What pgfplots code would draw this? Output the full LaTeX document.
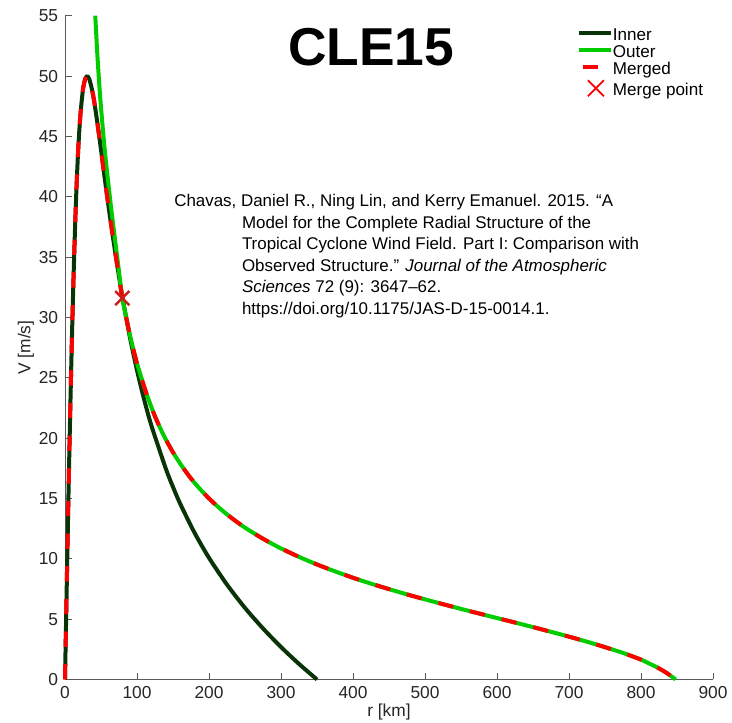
\documentclass[border=0pt]{standalone}
\usepackage{fontspec}
\setmainfont{Liberation Sans}
\usepackage{pgfplots}
\pgfplotsset{compat=1.18}

\definecolor{innergreen}{RGB}{8,52,8}
\definecolor{outergreen}{RGB}{0,204,0}
\definecolor{axisgray}{RGB}{90,90,90}
\definecolor{labelgray}{RGB}{38,38,38}
\definecolor{xred}{RGB}{205,30,30}

\begin{document}
\begin{tikzpicture}
\path[use as bounding box] (-48.75pt,-32.625pt) rectangle (500.25pt,509.625pt);
\begin{axis}[
  at={(0pt,0pt)}, anchor=south west,
  scale only axis, width=486pt, height=497.85pt,
  xmin=0, xmax=900, ymin=0, ymax=55,
  clip=false,
  axis x line*=bottom, axis y line*=left,
  axis line style={axisgray, line width=0.6pt},
  xtick={0,100,...,900}, ytick={0,5,...,55},
  tick align=inside, major tick length=5pt,
  tick style={axisgray, line width=0.6pt},
  /pgf/number format/assume math mode=true,
  tick label style={font=\fontsize{13}{15}\selectfont, text=labelgray, inner sep=0pt},
  xticklabel shift=5pt, yticklabel shift=5pt,
  xlabel={r [km]}, ylabel={V [m/s]},
  label style={font=\fontsize{13}{15}\selectfont, text=labelgray, inner sep=0pt},
  xlabel style={at={(axis description cs:0.5,0)}, anchor=north, yshift=-18pt},
  ylabel style={at={(axis description cs:0,0.5)}, rotate=0, anchor=south, yshift=23pt},
  legend style={draw=none, fill=none, at={(axis cs:711,54.0)}, anchor=north west,
    font=\fontsize{12.8}{13}\selectfont, inner sep=0pt, outer sep=0pt,
    row sep=0pt, column sep=0pt,
    nodes={inner sep=0pt, text height=9.2pt, text depth=3.7pt}},
  legend cell align=left,
  legend image code/.code={\draw[#1] (0pt,2.8pt) -- (24pt,2.8pt);},
  every axis plot/.append style={line join=round, smooth, tension=0.45},
]

% inner (ER11-type) profile
\addplot[innergreen, line width=3pt] coordinates {
(0,0) (1,3.2) (2,6.4) (3,9.6) (4,12.7) (5,15.8) (6,18.7) (8,24.2) (10,29.2)
(12,33.6) (14,37.5) (16,40.8) (18,43.5) (20,45.6) (22,47.2) (25,48.9) (28,49.75)
(31,50.0) (34,49.7) (37,49.0) (40,48.1) (45,46.1) (50,43.9) (55,41.6) (60,39.4)
(65,37.3) (70,35.3) (75,33.4) (80,31.6) (90,28.4) (100,25.62) (110,23.18)
(120,21.04) (140,17.47) (150,15.95) (160,14.56) (180,12.15) (200,10.08)
(225,7.86) (250,5.93) (275,4.23) (300,2.69) (325,1.29) (350,0)
};
\addlegendentry{Inner}

% outer (E04-type) profile
\addplot[outergreen, line width=3pt] coordinates {
(42.0,55.0) (43,53.9) (45,51.7) (47.5,49.4) (50,47.4) (55,44.0) (60,41.2) (65,38.6)
(70,36.2) (75,33.8) (79.6,31.6) (90,28.6) (100,26.2) (112.5,23.8) (125,21.8)
(137.5,20.18) (150,18.82) (162.5,17.67) (175,16.65) (187.5,15.78) (200,15.0)
(212.5,14.31) (225,13.68) (237.5,13.11) (250,12.58) (262.5,12.11) (275,11.66)
(287.5,11.25) (300,10.86) (325,10.16) (350,9.53) (375,8.96) (400,8.43) (425,7.94)
(450,7.49) (475,7.05) (500,6.64) (525,6.24) (550,5.85) (575,5.47) (600,5.09)
(625,4.72) (650,4.34) (675,3.95) (700,3.55) (725,3.13) (750,2.68) (775,2.20)
(800,1.65) (810,1.36) (820,1.08) (832,0.68) (840,0.36) (844,0.19) (848,0)
};
\addlegendentry{Outer}

% merged profile: inner inside the merge radius, outer beyond it
\addplot[red, line width=3pt, dash pattern=on 11.5pt off 13pt,
  legend image code/.code={\draw[red, line width=3pt] (3pt,2.8pt) -- (15.5pt,2.8pt);}] coordinates {
(0,0) (1,3.2) (2,6.4) (3,9.6) (4,12.7) (5,15.8) (6,18.7) (8,24.2) (10,29.2)
(12,33.6) (14,37.5) (16,40.8) (18,43.5) (20,45.6) (22,47.2) (25,48.9) (28,49.75)
(31,50.0) (34,49.7) (37,49.0) (40,48.1) (45,46.1) (50,43.9) (55,41.6) (60,39.4)
(65,37.3) (70,35.3) (75,33.4) (79.6,31.6) (90,28.6) (100,26.2) (112.5,23.8) (125,21.8)
(137.5,20.18) (150,18.82) (162.5,17.67) (175,16.65) (187.5,15.78) (200,15.0)
(212.5,14.31) (225,13.68) (237.5,13.11) (250,12.58) (262.5,12.11) (275,11.66)
(287.5,11.25) (300,10.86) (325,10.16) (350,9.53) (375,8.96) (400,8.43) (425,7.94)
(450,7.49) (475,7.05) (500,6.64) (525,6.24) (550,5.85) (575,5.47) (600,5.09)
(625,4.72) (650,4.34) (675,3.95) (700,3.55) (725,3.13) (750,2.68) (775,2.20)
(800,1.65) (810,1.36) (820,1.08) (832,0.68) (840,0.36) (844,0.19) (848,0)
};
\addlegendentry{Merged}

% merge point
\addplot[only marks, mark=x, mark size=7.5pt, xred, mark options={line width=1.9pt},
  legend image code/.code={\draw[red, line width=1.3pt] (6.75pt,-3.2pt) -- (18.75pt,8.8pt) (6.75pt,8.8pt) -- (18.75pt,-3.2pt);}]
  coordinates {(79.6,31.6)};
\addlegendentry{Merge point}

\node[font=\fontsize{40}{48}\selectfont\bfseries, anchor=base] at (axis cs:425,50.9) {CLE15};

\node[anchor=north west, align=left, inner sep=0pt, font=\fontsize{12.7}{16.1}\selectfont]
  at (axis cs:151.4,40.2) {Chavas, Daniel R., Ning Lin, and Kerry Emanuel. 2015. “A\\
  \hspace*{50.8pt}Model for the Complete Radial Structure of the\\
  \hspace*{50.8pt}Tropical Cyclone Wind Field. Part I: Comparison with\\
  \hspace*{50.8pt}Observed Structure.” \textit{Journal of the Atmospheric}\\
  \hspace*{50.8pt}\textit{Sciences} 72 (9): 3647–62.\\
  \hspace*{50.8pt}https://doi.org/10.1175/JAS-D-15-0014.1.};
\end{axis}
\end{tikzpicture}
\end{document}
